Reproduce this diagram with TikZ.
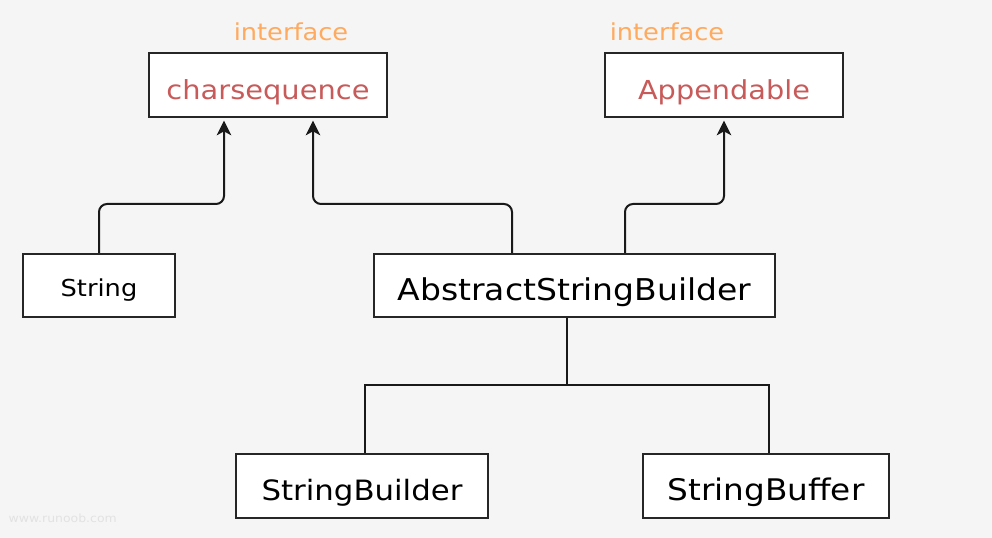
\documentclass[tikz,border=0pt]{standalone}
\usepackage{fontspec}
\setmainfont{DejaVu Sans}[FakeStretch=1.1]
\usetikzlibrary{arrows.meta}
\definecolor{bg}{HTML}{F5F5F5}
\definecolor{ifred}{HTML}{C85A5A}
\definecolor{iforange}{HTML}{FFAA5E}
\definecolor{wm}{HTML}{E2E2E2}
\newcommand{\boxtxt}[2]{\smash{\raisebox{-#1}{#2}}}
\tikzset{
  box/.style={draw=black!85, line width=1.5pt, fill=white, inner sep=0pt},
  conn/.style={draw=black!90, line width=1.5pt, rounded corners=6pt},
  tip/.tip={Stealth[length=11pt, width=11pt, inset=3pt]},
  arr/.style={conn, -tip},
  tree/.style={draw=black!90, line width=1.5pt},
  iflabel/.style={text=iforange, font=\fontsize{17.5}{20}\selectfont},
  fs/.style={font=\fontsize{#1}{#1}\selectfont},
}
\begin{document}
\begin{tikzpicture}[x=0.75pt,y=-0.75pt]
\fill[bg] (0,0) rectangle (992,538);
\useasboundingbox (0,0) rectangle (992,538);
\node[box, minimum width=178.5pt, minimum height=48pt, text=ifred, fs=19.7] (cs) at (268,85) {\boxtxt{11.25pt}{charsequence}};
\node[box, minimum width=178.5pt, minimum height=48pt, text=ifred, fs=19.6] (ap) at (724,85) {\boxtxt{11.25pt}{Appendable}};
\node[iflabel, inner sep=0pt] (if1) at (291,31) {\boxtxt{7.5pt}{interface}};
\node[iflabel, inner sep=0pt] (if2) at (667,31) {\boxtxt{7.5pt}{interface}};
\node[box, minimum width=114pt, minimum height=47.25pt, fs=17.5] (str) at (99,285.5) {\boxtxt{7.9pt}{String}};
\node[box, minimum width=300.75pt, minimum height=47.25pt, fs=22.5] (asb) at (574.5,285.5) {\boxtxt{10.9pt}{AbstractStringBuilder}};
\node[box, minimum width=189pt, minimum height=48pt, fs=21] (sb) at (362,486) {\boxtxt{10.5pt}{StringBuilder}};
\node[box, minimum width=184.5pt, minimum height=48pt, fs=22.3] (sbf) at (766,486) {\boxtxt{10.5pt}{StringBuffer}};
\node[text=wm, font=\fontsize{8.5}{10}\selectfont, anchor=west] (wmk) at (4,518) {www.runoob.com};
% connectors
\draw[arr] (str.north) -- ++(0,-49) -| ([xshift=-33pt,yshift=-2pt]cs.south);
\draw[arr] ([xshift=-46.875pt]asb.north) -- ++(0,-49) -| ([xshift=33.75pt,yshift=-2pt]cs.south);
\draw[arr] ([xshift=37.875pt]asb.north) -- ++(0,-49) -| ([yshift=-2pt]ap.south);
\draw[tree] ([xshift=-5.625pt]asb.south) -- ++(0,67) coordinate (j);
\draw[tree] ([xshift=2.25pt]sb.north) |- (j) -| ([xshift=2.25pt]sbf.north);
\end{tikzpicture}
\end{document}
